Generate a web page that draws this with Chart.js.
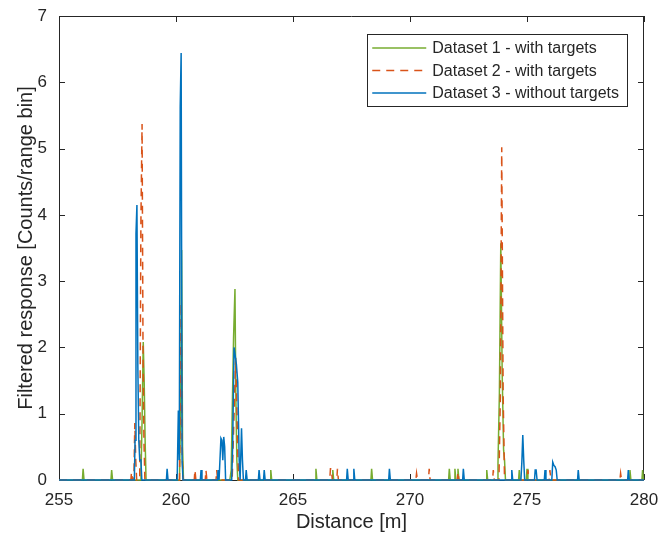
<!DOCTYPE html>
<html>
<head>
<meta charset="utf-8">
<script src="https://cdn.jsdelivr.net/npm/chart.js"></script>
<style>
  html, body { margin: 0; padding: 0; background: #ffffff; }
  #wrap { width: 659px; height: 538px; }
</style>
</head>
<body>
<div id="wrap"><canvas id="myChart"></canvas></div>
<script>
"use strict"

// Dataset 1 - with targets (green)
const distance1 = [255,
    256.0, 256.03, 256.07,
    257.22, 257.25, 257.29,
    258.5, 258.55, 258.6, 258.64, 258.68, 258.72,
    260.15, 260.2, 260.24, 260.28, 260.32,
    262.3, 262.36, 262.4, 262.46, 262.52, 262.56, 262.6, 262.64,
    264.02, 264.05, 264.09,
    265.95, 265.98, 266.02,
    266.67, 266.7, 266.74,
    268.33, 268.36, 268.4,
    271.65, 271.68, 271.72,
    271.89, 271.92, 271.96,
    272.02, 272.05, 272.09,
    273.25, 273.28, 273.32,
    273.72, 273.76, 273.82, 273.88, 273.94, 274.0, 274.04, 274.08,
    274.64, 274.67, 274.71,
    274.97, 275.0, 275.04,
    279.37, 279.4, 279.44,
    279.91, 279.94, 279.98,
    280];
const response1 = [0,
    0, 0.17, 0,
    0, 0.15, 0,
    0, 0.9, 2.08, 1.5, 0.6, 0,
    0, 1.2, 3.47, 0.5, 0,
    0, 0.15, 0.98, 2.15, 2.88, 1.2, 0.3, 0,
    0, 0.15, 0,
    0, 0.17, 0,
    0, 0.15, 0,
    0, 0.17, 0,
    0, 0.17, 0,
    0, 0.17, 0,
    0, 0.17, 0,
    0, 0.15, 0,
    0, 0.25, 1.3, 3.57, 1.6, 0.45, 0.3, 0,
    0, 0.15, 0,
    0, 0.17, 0,
    0, 0.15, 0,
    0, 0.15, 0,
    0];

// Dataset 2 - with targets (red, dashed)
const distance2 = [255,
    258.07, 258.1, 258.14,
    258.2, 258.24, 258.28, 258.32,
    258.45, 258.5, 258.55, 258.59, 258.63, 258.67,
    260.15, 260.22, 260.27, 260.31,
    260.78, 260.81, 260.85,
    261.25, 261.28, 261.32,
    261.71, 261.74, 261.78,
    262.4, 262.45, 262.55, 262.6, 262.64, 262.68,
    266.57, 266.6, 266.64, 266.68,
    266.87, 266.9, 266.94,
    270.25, 270.28, 270.32,
    270.79, 270.82, 270.86,
    272.02, 272.05, 272.09,
    273.53, 273.56, 273.6,
    273.8, 273.86, 273.92, 273.98, 274.04,
    275.0, 275.04, 275.08,
    275.95, 275.98, 276.02,
    278.97, 279.0, 279.04,
    280];
const response2 = [0,
    0, 0.12, 0,
    0, 0.86, 0.3, 0,
    0, 3.9, 5.37, 2.0, 0.6, 0,
    0, 2.67, 0.3, 0,
    0, 0.15, 0,
    0, 0.15, 0,
    0, 0.15, 0,
    0, 0.6, 1.84, 1.1, 0.4, 0,
    0, 0.17, 0.17, 0,
    0, 0.17, 0,
    0, 0.1, 0,
    0, 0.17, 0,
    0, 0.12, 0,
    0, 0.15, 0,
    0, 1.25, 5.02, 1.3, 0,
    0, 0.15, 0,
    0, 0.15, 0,
    0, 0.1, 0,
    0];

// Dataset 3 - without targets (blue)
const distance3 = [255,
    258.22, 258.25, 258.29, 258.33, 258.37, 258.41, 258.45, 258.5, 258.54,
    259.59, 259.62, 259.66,
    260.05, 260.1, 260.14, 260.18, 260.22, 260.26, 260.3,
    261.04, 261.07, 261.11,
    261.77, 261.8, 261.84,
    261.88, 261.92, 261.96, 262.0, 262.04, 262.08, 262.12,
    262.38, 262.42, 262.48, 262.58, 262.64, 262.7, 262.74,
    262.76, 262.8, 262.84, 262.88,
    262.97, 263.0, 263.04,
    263.52, 263.55, 263.59,
    263.74, 263.77, 263.81,
    267.29, 267.32, 267.36,
    267.57, 267.6, 267.64,
    269.09, 269.12, 269.16,
    272.25, 272.28, 272.32,
    274.32, 274.35, 274.39,
    274.74, 274.78, 274.82, 274.86, 274.9,
    275.32, 275.35, 275.39, 275.43,
    275.74, 275.77, 275.81,
    276.06, 276.1, 276.15, 276.2, 276.25, 276.29,
    277.16, 277.19, 277.23,
    279.3, 279.33, 279.37,
    280];
const response3 = [0,
    0, 0.6, 3.72, 4.15, 1.7, 0.6, 0.3, 0.3, 0,
    0, 0.17, 0,
    0, 1.05, 0.3, 5.63, 6.44, 0.3, 0,
    0, 0.15, 0,
    0, 0.15, 0,
    0, 0.63, 0.6, 0.3, 0.65, 0.5, 0,
    0, 0.5, 2.0, 1.75, 1.47, 0.3, 0,
    0, 0.78, 0.3, 0,
    0, 0.15, 0,
    0, 0.15, 0,
    0, 0.15, 0,
    0, 0.17, 0,
    0, 0.17, 0,
    0, 0.17, 0,
    0, 0.17, 0,
    0, 0.15, 0,
    0, 0.27, 0.68, 0.3, 0,
    0, 0.15, 0.15, 0,
    0, 0.15, 0,
    0, 0.27, 0.22, 0.2, 0.15, 0,
    0, 0.15, 0,
    0, 0.15, 0,
    0];

const seriesLabels = ["Dataset 1 - with targets", "Dataset 2 - with targets", "Dataset 3 - without targets"];
const seriesColors = ["#77AC30", "#D95319", "#0072BD"];
const seriesDashes = [[], [8, 6], []];

const xTickStep = 5;
const yTickStep = 1;

const fontFamily = "'Liberation Sans', Arial, Helvetica, sans-serif";
const textColor = "#262626";

function toPoints(xs, ys) {
    return xs.map((x, i) => ({ x: x, y: ys[i] }));
}

// MATLAB style box with inward ticks, drawn under the data
const matlabAxes = {
    id: "matlabAxes",
    beforeDatasetsDraw(chart) {
        const { ctx, chartArea: a, scales: { x, y } } = chart;
        const len = 6;
        ctx.save();
        ctx.strokeStyle = textColor;
        ctx.lineWidth = 1;
        ctx.beginPath();
        ctx.rect(a.left + 0.5, a.top + 0.5, a.right - a.left - 1, a.bottom - a.top);
        x.ticks.forEach(t => {
            const px = Math.round(x.getPixelForValue(t.value)) + 0.5;
            ctx.moveTo(px, a.bottom);
            ctx.lineTo(px, a.bottom - len);
            ctx.moveTo(px, a.top);
            ctx.lineTo(px, a.top + len);
        });
        y.ticks.forEach(t => {
            const py = Math.round(y.getPixelForValue(t.value)) + 0.5;
            ctx.moveTo(a.left, py);
            ctx.lineTo(a.left + len, py);
            ctx.moveTo(a.right, py);
            ctx.lineTo(a.right - len, py);
        });
        ctx.stroke();
        ctx.restore();
    }
};

// boxed legend in the top right corner
const matlabLegend = {
    id: "matlabLegend",
    afterDraw(chart) {
        const { ctx, chartArea: a } = chart;
        ctx.save();
        ctx.font = "16px " + fontFamily;
        let textW = 0;
        seriesLabels.forEach(l => { textW = Math.max(textW, ctx.measureText(l).width); });
        const rowH = 22.5;
        const sampleW = 54;
        const boxW = 5 + sampleW + 6 + textW + 8;
        const boxH = rowH * 3 + 4;
        const right = a.right - 17;
        const left = right - boxW;
        const top = a.top + 18;
        ctx.fillStyle = "#ffffff";
        ctx.fillRect(left, top, boxW, boxH);
        ctx.strokeStyle = textColor;
        ctx.lineWidth = 1;
        ctx.strokeRect(Math.round(left) + 0.5, Math.round(top) + 0.5, Math.round(boxW), Math.round(boxH));
        seriesLabels.forEach((l, i) => {
            const cy = top + 14 + i * rowH;
            ctx.beginPath();
            ctx.strokeStyle = seriesColors[i];
            ctx.lineWidth = 1.5;
            ctx.setLineDash(seriesDashes[i]);
            ctx.moveTo(left + 5, cy);
            ctx.lineTo(left + 5 + sampleW, cy);
            ctx.stroke();
            ctx.setLineDash([]);
            ctx.fillStyle = textColor;
            ctx.textAlign = "left";
            ctx.textBaseline = "middle";
            ctx.fillText(l, left + 5 + sampleW + 6, cy + 1);
        });
        ctx.restore();
    }
};

(function CreateChart() {
    const ctx = document.getElementById("myChart");
    const allDistances = [distance1, distance2, distance3];
    const allResponses = [response1, response2, response3];

    const datasets = seriesLabels.map((label, i) => ({
        label: label,
        data: toPoints(allDistances[i], allResponses[i]),
        showLine: true,
        borderColor: seriesColors[i],
        backgroundColor: seriesColors[i],
        borderWidth: 1.5,
        borderDash: seriesDashes[i],
        pointRadius: 0,
        tension: 0,
        clip: false,
        order: 3 - i
    }));

    new Chart(ctx, {
        type: "scatter",
        data: { datasets: datasets },
        options: {
            responsive: true,
            maintainAspectRatio: false,
            animation: false,
            layout: { padding: { top: 16, right: 15, left: 0, bottom: 0 } },
            plugins: {
                legend: { display: false },
                tooltip: { enabled: false }
            },
            scales: {
                x: {
                    type: "linear",
                    min: 255,
                    max: 280,
                    ticks: {
                        stepSize: xTickStep,
                        color: textColor,
                        font: { size: 17, family: fontFamily },
                        padding: 10,
                        maxRotation: 0
                    },
                    grid: { display: false, drawTicks: false },
                    border: { display: false },
                    title: {
                        display: true,
                        text: "Distance [m]",
                        color: textColor,
                        font: { size: 20, family: fontFamily },
                        padding: { top: 0, bottom: 4 }
                    },
                    afterFit(scale) {
                        scale.height = 58;
                        scale.paddingLeft = 0;
                        scale.paddingRight = 0;
                    }
                },
                y: {
                    min: 0,
                    max: 7,
                    ticks: {
                        stepSize: yTickStep,
                        color: textColor,
                        font: { size: 17, family: fontFamily },
                        padding: 12
                    },
                    grid: { display: false, drawTicks: false },
                    border: { display: false },
                    title: {
                        display: true,
                        text: "Filtered response [Counts/range bin]",
                        color: textColor,
                        font: { size: 20, family: fontFamily },
                        padding: { top: 14, bottom: 0 }
                    },
                    afterFit(scale) {
                        scale.width = 59;
                        scale.paddingTop = 0;
                        scale.paddingBottom = 0;
                    }
                }
            }
        },
        plugins: [matlabAxes, matlabLegend]
    });
}())
</script>
</body>
</html>
